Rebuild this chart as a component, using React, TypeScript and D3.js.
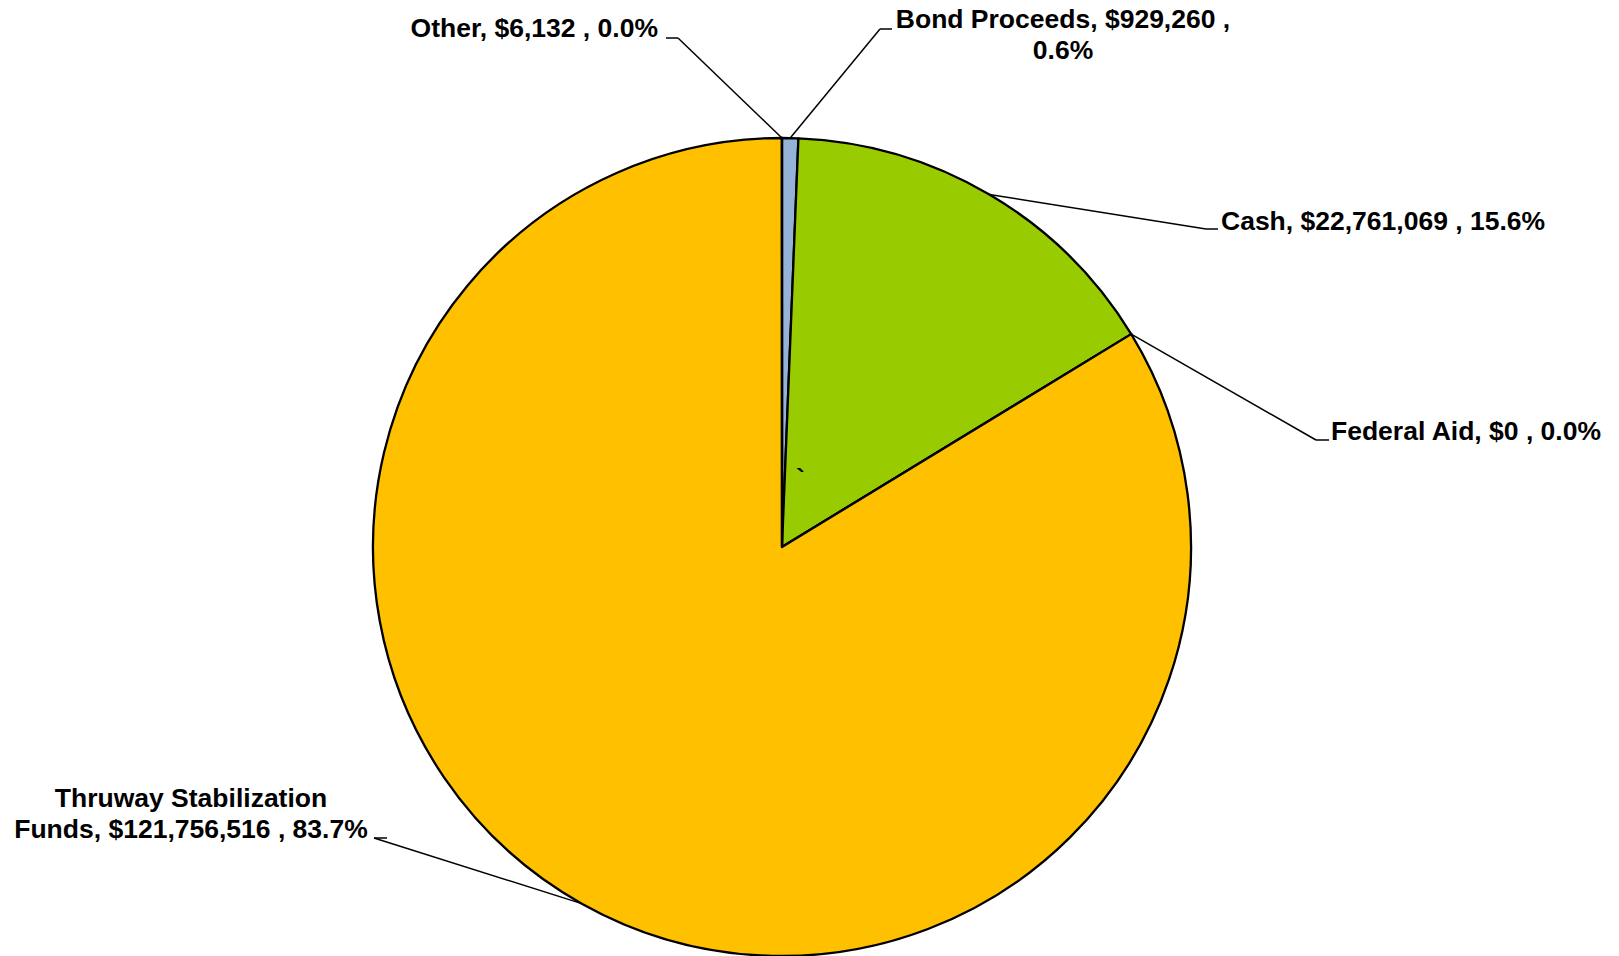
import React from "react";
import * as d3 from "d3";

const categories = ["Bond Proceeds", "Cash", "Federal Aid", "Thruway Stabilization Funds", "Other"];
const values = [929260, 22761069, 0, 121756516, 6132];
const colors = ["#95B3D7", "#99CC00", "#FFC000", "#FFC000", "#FFC000"];

type Lay = { lines: string[]; anchor: string; x: number; y: number; tick: [number, number, number] };
const W = 1619, H = 956;
const CX = 782, CY = 547, R = 409;
const FS = 26.5;
const LH = 31;

const fmtMoney = d3.format("$,");
const fmtPct = d3.format(".1%");

export default function App() {
  const total = d3.sum(values);
  const pie = d3.pie<number>().value((d) => d).sort(null)(values);
  const arc = d3.arc<d3.PieArcDatum<number>>().innerRadius(0).outerRadius(R);
  const lab = (i: number) => `${categories[i]}, ${fmtMoney(values[i])} , ${fmtPct(values[i] / total)}`;

  const layouts: Lay[] = [
    { lines: ["Bond Proceeds, " + fmtMoney(values[0]) + " ,", fmtPct(values[0] / total)], anchor: "middle", x: 1063, y: 28, tick: [880, 892, 29] },
    { lines: [lab(1)], anchor: "start", x: 1221, y: 230, tick: [1206, 1218, 229] },
    { lines: [lab(2)], anchor: "start", x: 1331, y: 440, tick: [1316, 1329, 440] },
    { lines: ["Thruway Stabilization", "Funds, " + fmtMoney(values[3]) + " , " + fmtPct(values[3] / total)], anchor: "middle", x: 191, y: 807, tick: [374, 387, 838] },
    { lines: [lab(4)], anchor: "end", x: 658, y: 37, tick: [678, 666, 38] },
  ];

  const edge = (a: number) => [CX + R * Math.sin(a), CY - R * Math.cos(a)];

  return (
    <svg width={W} height={H} style={{ position: "absolute", left: 0, top: 0, background: "#fff" }}>
      <g transform={`translate(${CX},${CY})`}>
        {pie.map((p, i) => (
          <path key={i} d={arc(p) || ""} fill={colors[i]} stroke="#000" strokeWidth={2.3} strokeLinejoin="round" />
        ))}
      </g>
      {pie.map((p, i) => {
        const L = layouts[i];
        const a = (p.startAngle + p.endAngle) / 2;
        const [ex, ey] = edge(a);
        const [t0, t1, ty] = L.tick;
        return (
          <g key={i}>
            <line x1={t0} y1={ty} x2={t1} y2={ty} stroke="#000" strokeWidth={1.5} />
            <line x1={t0} y1={ty} x2={ex} y2={ey} stroke="#000" strokeWidth={1.5} />
            <text x={L.x} y={L.y} textAnchor={L.anchor} fontFamily="'Liberation Sans', Arial, sans-serif" fontWeight="bold" fontSize={FS} fill="#000">
              {L.lines.map((s, j) => (
                <tspan key={j} x={L.x} dy={j === 0 ? 0 : LH}>{s}</tspan>
              ))}
            </text>
          </g>
        );
      })}
      <text x={796} y={487} fontFamily="'Liberation Sans', Arial, sans-serif" fontWeight="bold" fontSize={FS} fill="#000">`</text>
    </svg>
  );
}
